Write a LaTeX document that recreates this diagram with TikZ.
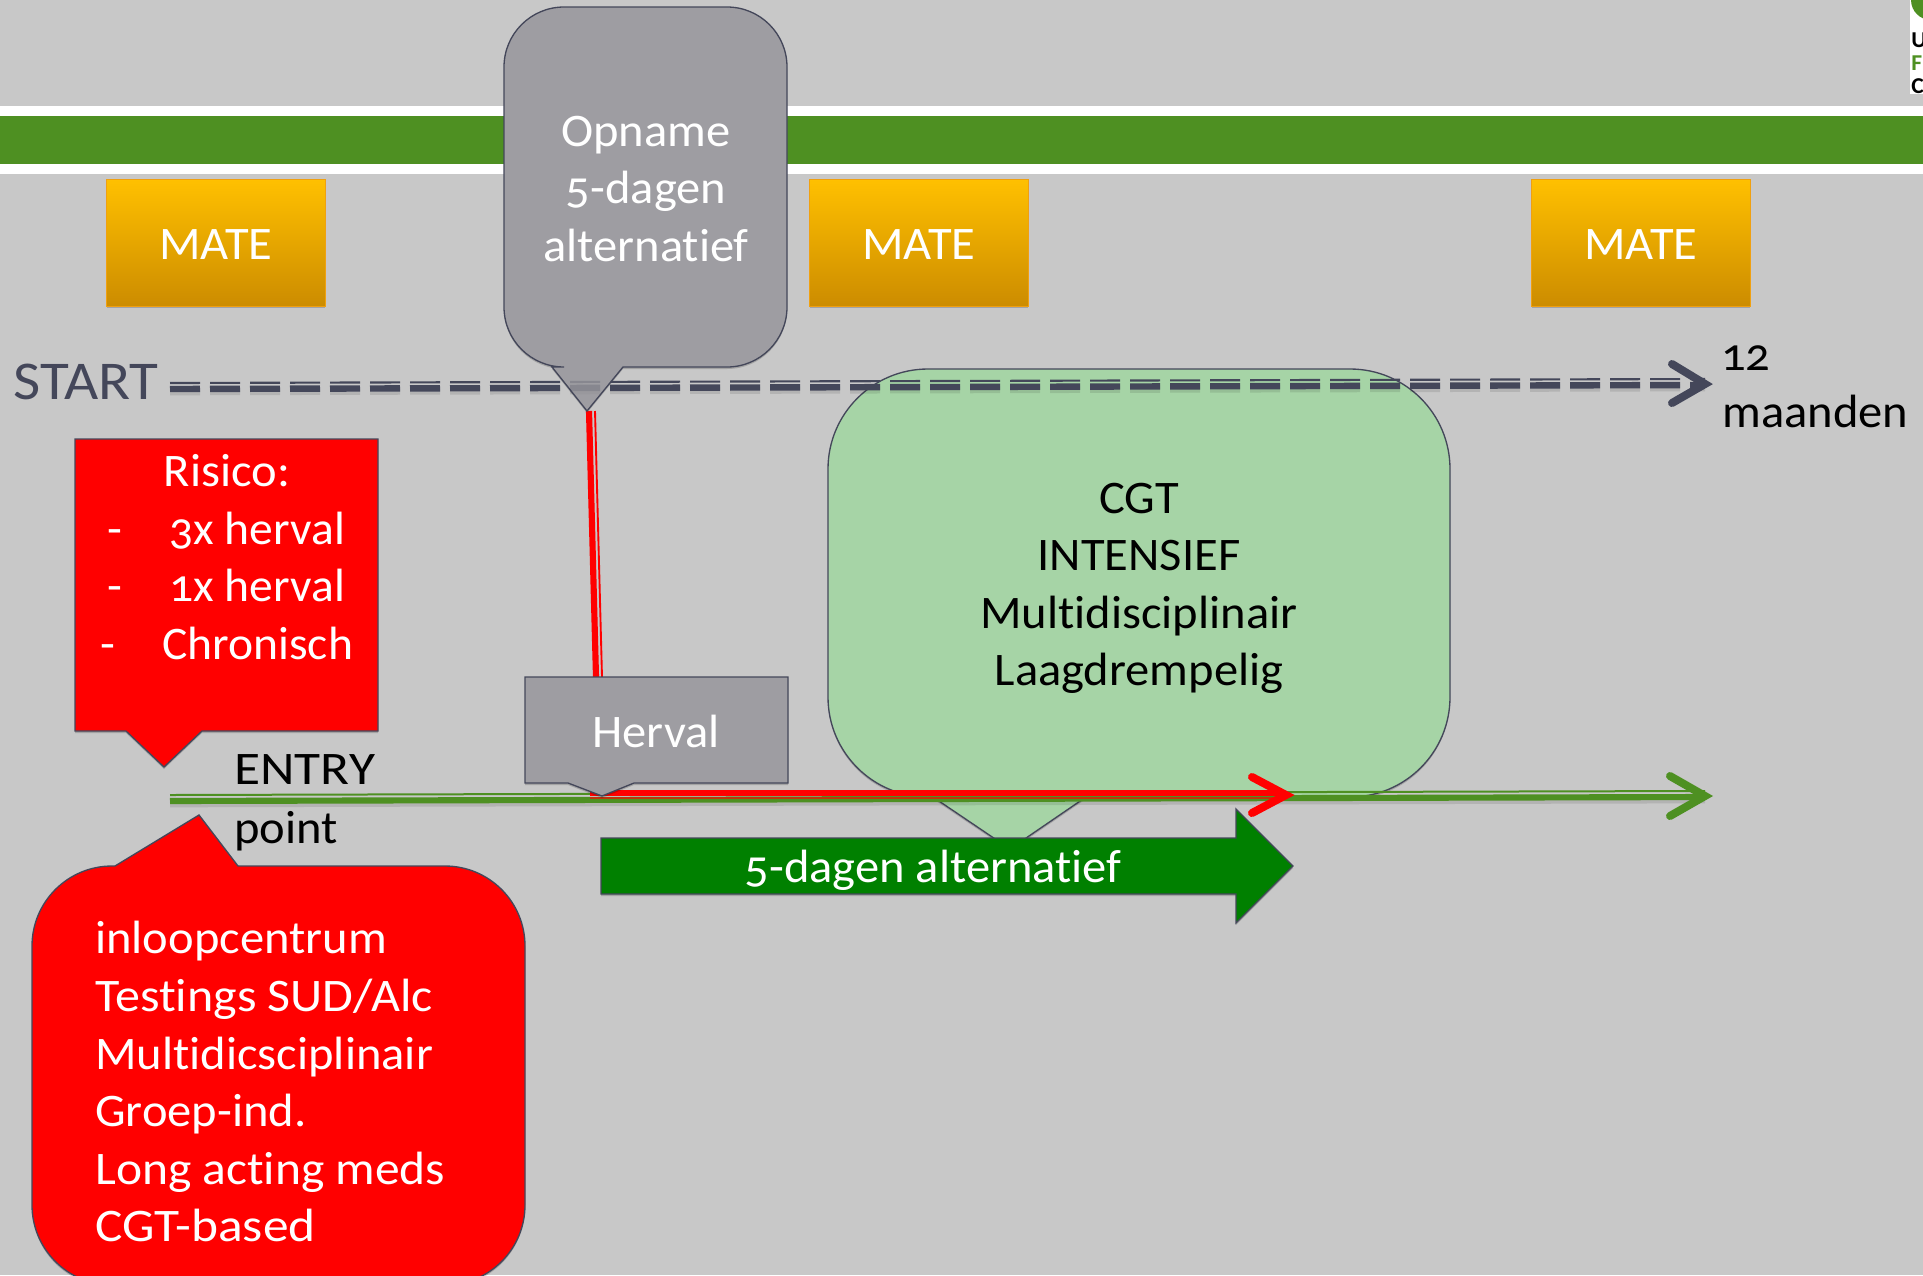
\documentclass[tikz,border=0pt]{standalone}
\usepackage{fontspec}
\setmainfont[Numbers=OldStyle,Ligatures=NoCommon,FakeStretch=1.04]{Carlito}
\usetikzlibrary{shadows,arrows.meta}
\definecolor{bgc}{HTML}{C8C8C8}
\definecolor{bandc}{HTML}{4E9022}
\definecolor{slatec}{HTML}{44475A}
\definecolor{greyc}{HTML}{9E9DA2}
\definecolor{cgtc}{HTML}{A6D4A6}
\definecolor{arrowc}{HTML}{008000}
\definecolor{oTop}{HTML}{FFC000}
\definecolor{oBot}{HTML}{CC8C00}
\definecolor{oEdge}{HTML}{F0A010}
\tikzset{
  x=0.75pt,y=-0.75pt,
  softshadow/.style={drop shadow={shadow xshift=0pt,shadow yshift=-1.5pt,opacity=.18,fill=black}},
  callout/.style={draw=slatec,line width=1pt,line join=miter,softshadow},
  matebox/.style={draw=oEdge,line width=1pt,shade,top color=oTop,bottom color=oBot,minimum width=164pt,minimum height=95pt,inner sep=0pt,softshadow},
  lbl/.style={inner sep=0pt,anchor=base,font=\mainsize},
  lblw/.style={inner sep=0pt,anchor=base west,font=\mainsize},
  wh/.style={text=white},
  wide/.style={xscale=#1,transform shape},
  headline/.style={line width=6pt,line cap=round,line join=miter},
  dashpat/.style={dash pattern=on 22.5pt off 7.5pt},
  lineshadow/.style={black,opacity=.1,line width=5.5pt},
}
\newcommand{\mainsize}{\fontsize{35}{42}\selectfont}
\newcommand{\opnameoutline}{(564,7) -- (727,7) arc[start angle=90,end angle=0,radius=60*0.75pt] -- (787,307)
  arc[start angle=0,end angle=-90,radius=60*0.75pt] -- (623,367) -- (opnametip) -- (552,367) -- (564,367)
  arc[start angle=270,end angle=180,radius=60*0.75pt] -- (504,67) arc[start angle=180,end angle=90,radius=60*0.75pt] -- cycle}
\begin{document}
\begin{tikzpicture}
\useasboundingbox (0,0) rectangle (1923,1275);
\fill[bgc] (0,0) rectangle (1923,1275);
% logo corner
\fill[white] (1910,0) rectangle (1923,94);
\begin{scope}
\clip (1910,0) rectangle (1923,94);
\fill[bandc] (1931,0) circle[radius=20*0.75pt];
\node[inner sep=0pt,anchor=base west,font=\fontsize{17}{20}\selectfont\bfseries,text=black] (logou) at (1911,47) {U};
\node[inner sep=0pt,anchor=base west,font=\fontsize{17}{20}\selectfont\bfseries,text=bandc] (logof) at (1911,70) {F};
\node[inner sep=0pt,anchor=base west,font=\fontsize{17}{20}\selectfont\bfseries,text=black] (logoc) at (1911,93) {C};
\end{scope}
% band
\fill[white] (0,106) rectangle (1923,174);
\fill[bandc] (0,116) rectangle (1923,164);
% coordinates
\coordinate (startc) at (170,389);
\coordinate (endc) at (1705,385);
\coordinate (headc) at (1705,384);
\coordinate (entryc) at (170,801);
\coordinate (entryend) at (1705,797);
\coordinate (opnametip) at (587,411);
\coordinate (redtop) at (589,411);
\coordinate (hervaltop) at (596,677);
\coordinate (hervaltip) at (602,796);
\coordinate (redend) at (1286,795);
% mate boxes
\node[matebox] (mate1) at (216,243) {};
\node[matebox] (mate2) at (919,243) {};
\node[matebox] (mate3) at (1641,243) {};
\node[lbl,wh] (matet1) at (216,259) {MATE};
\node[lbl,wh] (matet2) at (919,259) {MATE};
\node[lbl,wh] (matet3) at (1641,259) {MATE};
% opname fill
\fill[greyc,softshadow] \opnameoutline;
% CGT
\draw[callout,fill=cgtc]
  (928,369) -- (1350,369) arc[start angle=90,end angle=0,radius=100*0.75pt] -- (1450,697)
  arc[start angle=0,end angle=-90,radius=100*0.75pt] -- (1086,797) -- (1010,849) -- (933,797) -- (928,797)
  arc[start angle=270,end angle=180,radius=100*0.75pt] -- (828,469) arc[start angle=180,end angle=90,radius=100*0.75pt] -- cycle;
% dashed timeline (thin-thick compound)
\draw[lineshadow,dashpat] ([yshift=-2pt]startc) -- ([yshift=-2pt]endc);
\draw[slatec,line width=1.6pt,dashpat] ([yshift=4.5pt]startc) -- ([yshift=4.5pt]endc);
\draw[slatec,line width=4.8pt,dashpat] (startc) -- (endc);
\draw[slatec,headline] (1672,364) -- (headc) -- (1672,403);
% red vertical (thick-thin compound)
\draw[red,line width=4.6pt] (redtop) -- (hervaltop);
\draw[red,line width=1.4pt] ([xshift=4.5pt]redtop) -- ([xshift=4.5pt]hervaltop);
% opname tail overlay + outline
\fill[greyc,fill opacity=.75] (552,367) -- (623,367) -- (opnametip) -- cycle;
\draw[slatec,line width=1pt] \opnameoutline;
% entry line (thin-thick compound)
\draw[lineshadow] ([yshift=-2pt]entryc) -- ([yshift=-2pt]entryend);
\draw[bandc,line width=1.5pt] ([yshift=4.5pt]entryc) -- ([yshift=4.5pt]entryend);
\draw[bandc,line width=4.6pt] (entryc) -- (entryend);
\draw[bandc,headline] (1670,776) -- (1705,796) -- (1670,816);
% red horizontal
\draw[red,line width=4.6pt] (590,793) -- (1283,793);
\draw[red!65!bandc,line width=1.6pt] (590,798) -- (1283,798);
\draw[red,headline] (1252,777) -- (redend) -- (1252,813);
% herval
\draw[callout,fill=greyc] (525,677) -- (788,677) -- (788,783) -- (634,783) -- (hervaltip) -- (568,783) -- (525,783) -- cycle;
% arrow
\draw[callout,fill=arrowc] (601,838) -- (1236,838) -- (1236,809) -- (1293,866) -- (1236,923) -- (1236,894) -- (601,894) -- cycle;
% risico
\draw[callout,fill=red] (75,439) -- (378,439) -- (378,731) -- (202,731) -- (164,767) -- (126,731) -- (75,731) -- cycle;
% red rounded
\draw[callout,fill=red]
  (238,866) -- (445,866) arc[start angle=90,end angle=0,radius=80*0.75pt] -- (525,1205)
  arc[start angle=0,end angle=-90,radius=80*0.75pt] -- (112,1285)
  arc[start angle=270,end angle=180,radius=80*0.75pt] -- (32,946) arc[start angle=180,end angle=90,radius=80*0.75pt] -- (115,866) -- (199,815) -- cycle;
% texts
\node[lbl,wh] (op1) at (646,146) {Opname};
\node[lbl,wh] (op2) at (646,203) {5-dagen};
\node[lbl,wh] (op3) at (646,261) {alternatief};
\node[lblw,text=slatec,font=\fontsize{41}{48}\selectfont,wide=1.04] (start) at (13,399) {START};
\node[lblw] (twelve) at (1721,370) {12};
\node[lblw] (maanden) at (1722,427) {maanden};
\node[lbl,wh] (ris) at (227,486) {Risico:};
\node[lbl,wh] (d1) at (115,544) {-};
\node[lbl,wh] (d2) at (115,601) {-};
\node[lbl,wh] (d3) at (108,659) {-};
\node[lblw,wh,wide=.98] (r1) at (169,544) {3x herval};
\node[lblw,wh,wide=.98] (r2) at (169,601) {1x herval};
\node[lblw,wh,wide=.98] (r3) at (162,659) {Chronisch};
\node[lbl,wh] (herv) at (656,747) {Herval};
\node[lblw,wide=1.1] (entry) at (234,784) {ENTRY};
\node[lblw] (point) at (234,843) {point};
\node[lblw,wh] (l1) at (95,953) {inloopcentrum};
\node[lblw,wh,wide=1.03] (l2) at (95,1011) {Testings SUD/Alc};
\node[lblw,wh] (l3) at (95,1069) {Multidicsciplinair};
\node[lblw,wh] (l4) at (95,1126) {Groep-ind.};
\node[lblw,wh,wide=1.02] (l5) at (95,1184) {Long acting meds};
\node[lblw,wh,wide=1.06] (l6) at (95,1241) {CGT-based};
\node[lbl] (c1) at (1139,513) {CGT};
\node[lbl] (c2) at (1139,570) {INTENSIEF};
\node[lbl] (c3) at (1139,628) {Multidisciplinair};
\node[lbl] (c4) at (1139,685) {Laagdrempelig};
\node[lbl,wh] (alt) at (933,882) {5-dagen alternatief};
\end{tikzpicture}
\end{document}
